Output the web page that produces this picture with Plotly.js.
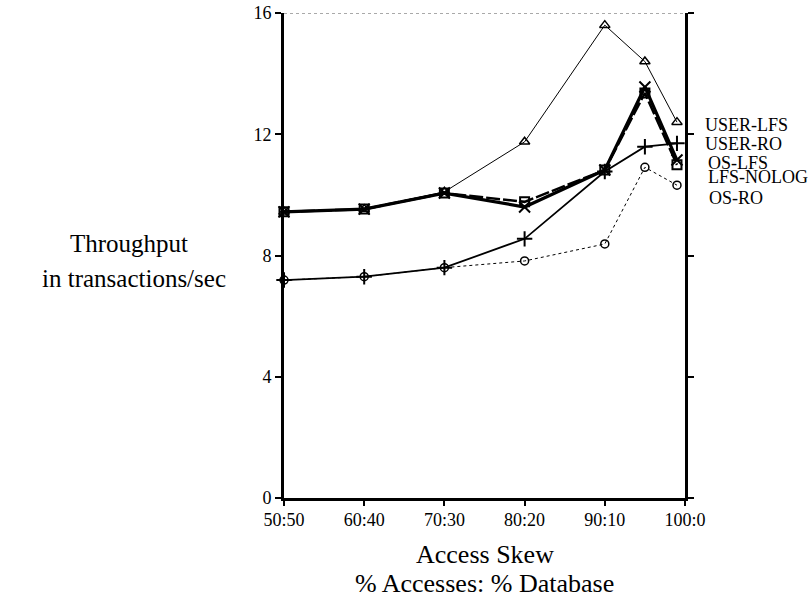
<!DOCTYPE html>
<html>
<head>
<meta charset="utf-8">
<script src="https://cdn.plot.ly/plotly-3.0.1.min.js"></script>
<style>html,body{margin:0;padding:0;background:#fff;}#chart{width:809px;height:601px;}</style>
</head>
<body>
<div id="chart"></div>
<script>
// Data
const skewX = [50, 60, 70, 80, 90, 95, 99];
const tickValues = [50, 60, 70, 80, 90, 100];
const tickLabels = ["50:50", "60:40", "70:30", "80:20", "90:10", "100:0"];
const userLfs  = [9.44, 9.53, 10.10, 11.75, 15.60, 14.40, 12.40];
const userRo   = [7.19, 7.30, 7.60, 8.55, 10.77, 11.59, 11.70];
const osLfs    = [9.44, 9.53, 10.06, 9.60, 10.82, 13.56, 11.15];
const lfsNolog = [9.44, 9.53, 10.06, 9.77, 10.82, 13.36, 10.99];
const osRo     = [7.19, 7.30, 7.60, 7.82, 8.38, 10.91, 10.32];
const seriesNames = ["USER-LFS", "USER-RO", "OS-LFS", "LFS-NOLOG", "OS-RO"];
const yTitleLines = ["Throughput", "in transactions/sec"];
const xTitleLines = ["Access Skew", "% Accesses: % Database"];

const FONT = "Liberation Serif, Times New Roman, serif";
const mk = (sym, size, lw) => ({symbol: sym, size: size, color: "#000", line: {color: "#000", width: lw}});

const traces = [
  {x: skewX, y: osRo, mode: "lines+markers", name: seriesNames[4],
   line: {color: "#000", width: 1, dash: "3px,3px"}, marker: mk("circle-open", 8, 1.5)},
  {x: skewX, y: userRo, mode: "lines+markers", name: seriesNames[1],
   line: {color: "#000", width: 1.8}, marker: mk("cross-thin-open", 11, 2)},
  {x: skewX, y: userLfs, mode: "lines+markers", name: seriesNames[0],
   line: {color: "#000", width: 1}, marker: mk("triangle-up-open", 9, 1.5)},
  {x: skewX, y: lfsNolog, mode: "lines+markers", name: seriesNames[3],
   line: {color: "#000", width: 2.5, dash: "14px,3px"}, marker: mk("square-open", 9, 2)},
  {x: skewX, y: osLfs, mode: "lines+markers", name: seriesNames[2],
   line: {color: "#000", width: 3.2}, marker: mk("x-thin-open", 11, 2)}
];
traces.forEach(t => t.cliponaxis = false);

const labelY = [12.31, 11.68, 11.05, 10.59, 9.90];
const labelX = [1.045, 1.045, 1.052, 1.052, 1.055];
const annotations = seriesNames.map((n, i) => ({
  xref: "paper", yref: "y", x: labelX[i], y: labelY[i], text: n, showarrow: false,
  xanchor: "left", yanchor: "middle", font: {family: FONT, size: 18, color: "#000"}
}));
annotations.push(
  {xref: "paper", yref: "paper", x: -0.234, y: 0.524, text: yTitleLines[0], showarrow: false,
   xanchor: "right", yanchor: "middle", font: {family: FONT, size: 25, color: "#000"}},
  {xref: "paper", yref: "paper", x: -0.140, y: 0.452, text: yTitleLines[1], showarrow: false,
   xanchor: "right", yanchor: "middle", font: {family: FONT, size: 25, color: "#000"}},
  {xref: "paper", yref: "paper", x: 0.5, y: -0.117, text: xTitleLines[0], showarrow: false,
   xanchor: "center", yanchor: "middle", font: {family: FONT, size: 26, color: "#000"}},
  {xref: "paper", yref: "paper", x: 0.5, y: -0.1773, text: xTitleLines[1], showarrow: false,
   xanchor: "center", yanchor: "middle", font: {family: FONT, size: 26, color: "#000"}}
);

const layout = {
  width: 809, height: 601,
  margin: {l: 284, r: 124, t: 13, b: 103},
  paper_bgcolor: "#fff", plot_bgcolor: "#fff",
  showlegend: false,
  font: {family: FONT, color: "#000", size: 18},
  xaxis: {
    range: [50, 100], tickmode: "array", tickvals: tickValues, ticktext: tickLabels,
    showgrid: false, zeroline: false, showline: true, linecolor: "#000", linewidth: 3,
    ticks: "outside", ticklen: 5, tickwidth: 2, tickcolor: "#000", ticklabelstandoff: -2,
    tickfont: {family: FONT, size: 18, color: "#000"}
  },
  yaxis: {
    range: [0, 16], tickvals: [0, 4, 8, 12, 16],
    showgrid: false, zeroline: false, showline: true, linecolor: "#000", linewidth: 3,
    mirror: "ticks",
    ticks: "outside", ticklen: 6, tickwidth: 2, tickcolor: "#000",
    tickfont: {family: FONT, size: 18, color: "#000"}
  },
  shapes: [
    {type: "line", xref: "paper", yref: "y", x0: 0, x1: 1, y0: 16, y1: 16,
     line: {color: "#555", width: 1, dash: "dot"}}
  ],
  annotations: annotations
};

Plotly.newPlot("chart", traces, layout, {displayModeBar: false, staticPlot: true});
</script>
</body>
</html>
